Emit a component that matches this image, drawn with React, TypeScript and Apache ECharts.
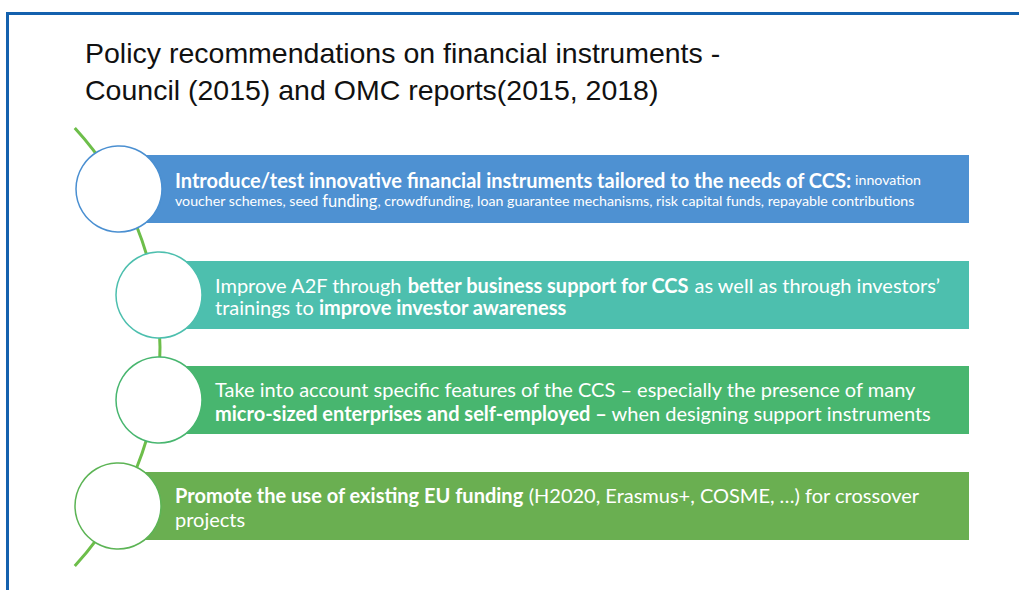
import React, { useEffect, useRef } from "react";
import * as echarts from "echarts";

const titleLines = [
  "Policy recommendations on financial instruments -",
  "Council (2015) and OMC reports(2015, 2018)",
];

const itemTexts = [
  "{b1|Introduce/test innovative financial instruments tailored to the needs of CCS:}{s| innovation}\n{s|voucher schemes, seed }{m|funding}{s|, crowdfunding, loan guarantee mechanisms, risk capital funds, repayable contributions}",
  "{r|Improve A2F through }{b|better business support for CCS}{r| as well as through investors’}\n{r|trainings to }{b|improve investor awareness}",
  "{r|Take into account specific features of the CCS – especially the presence of many}\n{b|micro-sized enterprises and self-employed –}{r| when designing support instruments}",
  "{b|Promote the use of existing EU funding}{r| (H2020, Erasmus+, COSME, …) for crossover}\n{r|projects}",
];

const itemColors = ["#4E91D2", "#4DBFAE", "#48B66F", "#6AAF51"];
const circleBorderColors = ["#4A8FD1", "#4DBFAE", "#48B66F", "#5CB455"];

// layout constants
const BAR_TOPS = [155, 261, 366, 472];
const BAR_H = 68;
const BAR_RIGHT = 969;
const CIRCLE_X = [119, 159, 159, 118];
const CIRCLE_R = 43;
const TEXT_X = [175, 215, 215, 175];
const LINE_H = [21, 22, 24, 24];

const FONT = "Lato, 'Noto Sans', sans-serif";

export default function App() {
  const ref = useRef<HTMLDivElement>(null);
  useEffect(() => {
    if (!ref.current) return;
    const chart = echarts.init(ref.current, null, { renderer: "svg" });
    const elements: any[] = [];

    // frame
    elements.push({ type: "rect", shape: { x: 6, y: 12, width: 1013, height: 3 }, style: { fill: "#1461AE" } });
    elements.push({ type: "rect", shape: { x: 6, y: 12, width: 3, height: 578 }, style: { fill: "#1461AE" } });

    // title
    titleLines.forEach((t, i) => {
      elements.push({
        type: "text",
        x: 85,
        y: 53 + i * 37,
        style: {
          text: t,
          fill: "#111",
          fontSize: 28.5,
          fontFamily: "'Liberation Sans Narrow', 'Liberation Sans', sans-serif",
          verticalAlign: "middle",
          align: "left",
        },
      });
    });

    // arc line
    const acx = -164, acy = 347, ar = 324;
    const ang = Math.asin((347 - 128) / ar);
    elements.push({
      type: "arc",
      shape: { cx: acx, cy: acy, r: ar, startAngle: -ang, endAngle: ang, clockwise: true },
      style: { stroke: "#6DBE4A", lineWidth: 3, fill: "none" },
    });

    const richBase = (lh: number) => ({
      b1: { fontSize: 20, fontWeight: "bold", fill: "#fff", fontFamily: FONT, lineHeight: lh },
      s: { fontSize: 14.2, fill: "#fff", fontFamily: FONT, lineHeight: lh },
      m: { fontSize: 16.5, fill: "#fff", fontFamily: FONT, lineHeight: lh },
      r: { fontSize: 20, fill: "#fff", fontFamily: FONT, lineHeight: lh },
      b: { fontSize: 20, fontWeight: "bold", fill: "#fff", fontFamily: FONT, lineHeight: lh },
    });

    itemTexts.forEach((txt, i) => {
      const top = BAR_TOPS[i];
      const cy = top + BAR_H / 2;
      elements.push({
        type: "rect",
        shape: { x: CIRCLE_X[i], y: top, width: BAR_RIGHT - CIRCLE_X[i], height: BAR_H },
        style: { fill: itemColors[i] },
      });
      elements.push({
        type: "circle",
        shape: { cx: CIRCLE_X[i], cy, r: CIRCLE_R },
        style: { fill: "#fff", stroke: circleBorderColors[i], lineWidth: 1.5 },
      });
      elements.push({
        type: "text",
        x: TEXT_X[i],
        y: cy + 1,
        style: {
          text: txt,
          rich: richBase(LINE_H[i]),
          verticalAlign: "middle",
          align: "left",
          fill: "#fff",
        },
      });
    });

    chart.setOption({
      animation: false,
      backgroundColor: "#fff",
      graphic: { elements },
    });
    return () => chart.dispose();
  }, []);
  return (
    <div
      ref={ref}
      style={{ position: "fixed", left: 0, top: 0, width: 1019, height: 590 }}
    />
  );
}
